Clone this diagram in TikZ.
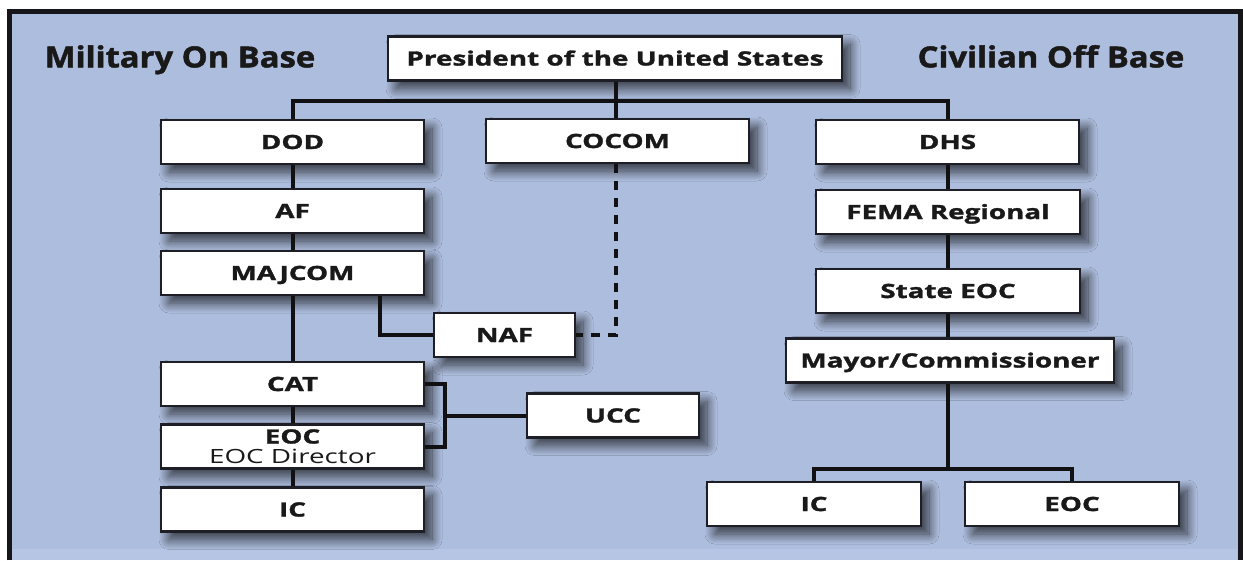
\documentclass[tikz,border=0pt]{standalone}
\usepackage{fontspec}
\setmainfont{Open Sans}[FakeStretch=1.42, BoldFeatures={FakeBold=1.6}]
\newfontfamily\titlefont{Open Sans}[FakeStretch=1.13, BoldFeatures={FakeBold=1.6}]
\usetikzlibrary{shadows.blur}
\definecolor{bgblue}{RGB}{173,189,221}
\definecolor{bgband}{RGB}{182,197,228}
\definecolor{framec}{RGB}{22,22,26}
\definecolor{boxline}{RGB}{30,30,38}
\definecolor{linec}{RGB}{17,17,20}
\begin{document}
\begin{tikzpicture}[x=1pt,y=-1pt,
  box/.style={draw=boxline, line width=2.2pt, fill=white, minimum height=44pt,
    inner sep=0pt, text=black!90, font=\bfseries\fontsize{19.6}{20}\selectfont,
    text height=14pt, text depth=0pt,
    blur shadow={shadow xshift=8pt, shadow yshift=-8pt, shadow blur radius=10pt,
      shadow blur steps=30, shadow opacity=72}},
  conn/.style={line width=4pt, draw=linec},
  dconn/.style={conn, dash pattern=on 9pt off 8pt},
  title/.style={font=\titlefont\bfseries\fontsize{29}{30}\selectfont,
    text height=20.7pt, text depth=0pt, inner sep=0pt, text=black!90}]
\useasboundingbox (0,0) rectangle (1243,560);
% frame
\fill[white] (0,0) rectangle (1243,560);
\fill[bgblue] (9,11) rectangle (1240,560);
\fill[bgband] (12,549) rectangle (1237,560);
\draw[framec, line width=5pt] (9,560) -- (9,11) -- (1240,11) -- (1240,560);
% titles
\node[title] (mil) at (180,57) {Military On Base};
\node[title] (civ) at (1051,57) {Civilian Off Base};
% top
\node[box, minimum width=454pt] (pres) at (615,58.5) {President of the United States};
\node[box, minimum width=263pt] (dod) at (292.5,142) {DOD};
\node[box, minimum width=263pt] (cocom) at (617.5,141) {COCOM};
\node[box, minimum width=263pt] (dhs) at (947.5,142) {DHS};
% left column
\node[box, minimum width=263pt] (af) at (292.5,211) {AF};
\node[box, minimum width=263pt] (majcom) at (292.5,273) {MAJCOM};
\node[box, minimum width=141pt] (naf) at (504.5,335) {NAF};
\node[box, minimum width=263pt] (cat) at (292.5,384) {CAT};
\node[box, minimum width=263pt, align=center, text height=34pt, text depth=0pt] (eoc) at (292.5,446.5) {EOC\\{\mdseries EOC Director}};
\node[box, minimum width=263pt] (ic) at (292.5,509.5) {IC};
\node[box, minimum width=172pt] (ucc) at (613,415.5) {UCC};
% right column
\node[box, minimum width=264pt] (fema) at (948,212) {FEMA Regional};
\node[box, minimum width=264pt] (state) at (948,291) {State EOC};
\node[box, minimum width=328pt] (mayor) at (950,360.5) {Mayor/Commissioner};
\node[box, minimum width=214pt] (icr) at (814,504) {IC};
\node[box, minimum width=214pt] (eocr) at (1072,504) {EOC};
% junction points
\coordinate (bus) at (616,101);
\coordinate (br) at (445,415.5);
\coordinate (rbus) at (948,469);
% connectors
\draw[conn] (pres.south -| bus) -- (cocom.north -| bus);
\draw[conn] (dod.north) |- (bus) -| (dhs.north);
\draw[conn] (dod.south) -- (af.north);
\draw[conn] (af.south) -- (majcom.north);
\draw[conn] (majcom.south) -- (cat.north);
\draw[conn] (cat.south) -- (eoc.north);
\draw[conn] (eoc.south) -- (ic.north);
\draw[conn] ([xshift=-45pt]majcom.south east) |- (naf.west);
\draw[dconn] (cocom.south -| bus) |- (naf.east);
\draw[conn] (cat.east) -| (br) |- (eoc.east);
\draw[conn] (br) -- (ucc.west);
\draw[conn] (dhs.south -| rbus) -- (fema.north -| rbus);
\draw[conn] (fema.south -| rbus) -- (state.north -| rbus);
\draw[conn] (state.south -| rbus) -- (mayor.north -| rbus);
\draw[conn] (mayor.south -| rbus) -- (rbus);
\draw[conn] (icr.north) |- (rbus) -| (eocr.north);
\end{tikzpicture}
\end{document}
